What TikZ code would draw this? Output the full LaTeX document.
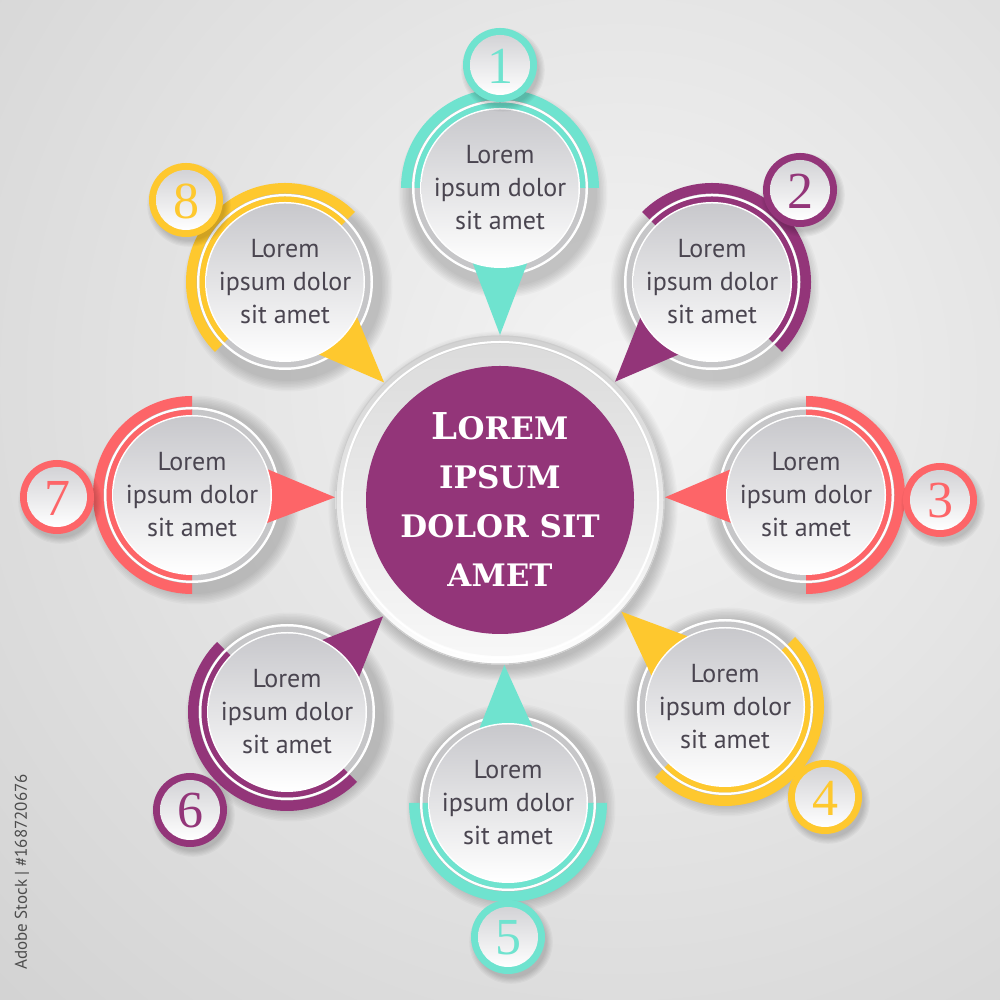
\documentclass[tikz,border=0pt]{standalone}
\usepackage{fontspec}
\setmainfont{Liberation Serif}
\newfontfamily\satfont{PT Sans}
\newfontfamily\cfont{DejaVu Serif}
\usetikzlibrary{calc}
\definecolor{tealc}{HTML}{6FE3CF}
\definecolor{purp}{HTML}{933579}
\definecolor{coral}{HTML}{FD6568}
\definecolor{yel}{HTML}{FEC82E}
\definecolor{txtgrey}{HTML}{4A4550}
\definecolor{rimgrey}{HTML}{C6C6C8}
\definecolor{disctop}{HTML}{C8C8CC}
\definecolor{bgin}{HTML}{F4F4F4}
\definecolor{bgout}{HTML}{D0D0D0}
\tikzset{
  sattext/.style={text=txtgrey, align=center, font=\satfont\fontsize{26}{33}\selectfont},
  numtext/.style={font=\fontsize{52}{52}\selectfont},
  ctextstyle/.style={text=white, align=center, font=\cfont\bfseries\fontsize{31}{49}\selectfont},
}
% #1 coordinate name, #2 outward angle, #3 colour
\newcommand{\satellite}[3]{%
  \foreach \k in {1,...,8}{\fill[black,opacity=0.022] ($(#1)+(3,-5)$) circle ({106-\k*1.5});}
  \fill[#3] ($(#1)+(#2-90:99)$) arc[start angle=#2-90, end angle=#2+90, radius=99]
     -- ($(#1)+(#2+90:88.5)$) arc[start angle=#2+90, end angle=#2-90, radius=88.5] -- cycle;
  \fill[white] (#1) circle (88);
  \fill[rimgrey] (#1) circle (85.5);
  \fill[#3] ($(#1)+(#2-90:85.5)$) arc[start angle=#2-90, end angle=#2+90, radius=85.5] -- cycle;
  \coordinate (#1tip) at ($(c)!165pt!(#1)$);
  \coordinate (#1base) at ($(#1)!60pt!(c)$);
  \fill[#3] (#1tip) -- ($(#1base)!33pt!90:(c)$) -- ($(#1base)!33pt!-90:(c)$) -- cycle;
  \fill[white] (#1) circle (80);
  \shade[top color=disctop, bottom color=white] (#1) circle (78.5);
}
% #1 coordinate name, #2 colour, #3 number
\newcommand{\numcircle}[3]{%
  \foreach \k in {1,...,6}{\fill[black,opacity=0.03] ($(#1)+(3,-5)$) circle ({43-\k*1.2});}
  \fill[#2] (#1) circle (37);
  \shade[top color=disctop!80, bottom color=white] (#1) circle (30);
  \node[numtext, text=#2] (#1t) at ($(#1)+(0,-1)$) {#3};
}
\begin{document}
\begin{tikzpicture}[x=1pt,y=1pt]
\useasboundingbox (0,0) rectangle (1000,1000);
% background
\begin{scope}
  \clip (0,0) rectangle (1000,1000);
  \shade[inner color=bgin, outer color=bgout] (620,620) circle (950);
\end{scope}
% centre
\coordinate (c) at (500,500);
\foreach \k in {1,...,10}{\fill[black,opacity=0.02] ($(c)+(3,-6)$) circle ({176-\k*1.3});}
\shade[top color=black!18, bottom color=white] (c) circle (164.5);
\draw[black!20, line width=1pt] (c) circle (164);
\draw[white, line width=2pt] (c) circle (158);
\shade[top color=black!14, bottom color=black!3] (c) circle (156);
\fill[purp] (c) circle (134);
% satellite centres
\coordinate (p1) at (500,812);
\coordinate (p2) at (712,718);
\coordinate (p3) at (806,505);
\coordinate (p4) at (725,293);
\coordinate (p5) at (508,197);
\coordinate (p6) at (287,288);
\coordinate (p7) at (192,505);
\coordinate (p8) at (285,718);
\coordinate (n1) at (500,935);
\coordinate (n2) at (800,810);
\coordinate (n3) at (940,500);
\coordinate (n4) at (825,203);
\coordinate (n5) at (508,63);
\coordinate (n6) at (190,190);
\coordinate (n7) at (57,503);
\coordinate (n8) at (186,800);
\satellite{p1}{90}{tealc}
\satellite{p2}{45}{purp}
\satellite{p3}{0}{coral}
\satellite{p4}{-45}{yel}
\satellite{p5}{-90}{tealc}
\satellite{p6}{-135}{purp}
\satellite{p7}{180}{coral}
\satellite{p8}{135}{yel}
\numcircle{n1}{tealc}{1}
\numcircle{n2}{purp}{2}
\numcircle{n3}{coral}{3}
\numcircle{n4}{yel}{4}
\numcircle{n5}{tealc}{5}
\numcircle{n6}{purp}{6}
\numcircle{n7}{coral}{7}
\numcircle{n8}{yel}{8}
\foreach \i in {1,...,8}{\node[sattext] (s\i) at (p\i) {Lorem\\ipsum dolor\\sit amet};}
\node[ctextstyle] (ct) at (c) {{\fontsize{37}{49}\selectfont L}OREM\\IPSUM\\DOLOR SIT\\AMET};
\node[rotate=90, text=black!70, font=\satfont\fontsize{17}{20}\selectfont] (stock) at (22,128) {Adobe Stock | \#168720676};
\end{tikzpicture}
\end{document}
